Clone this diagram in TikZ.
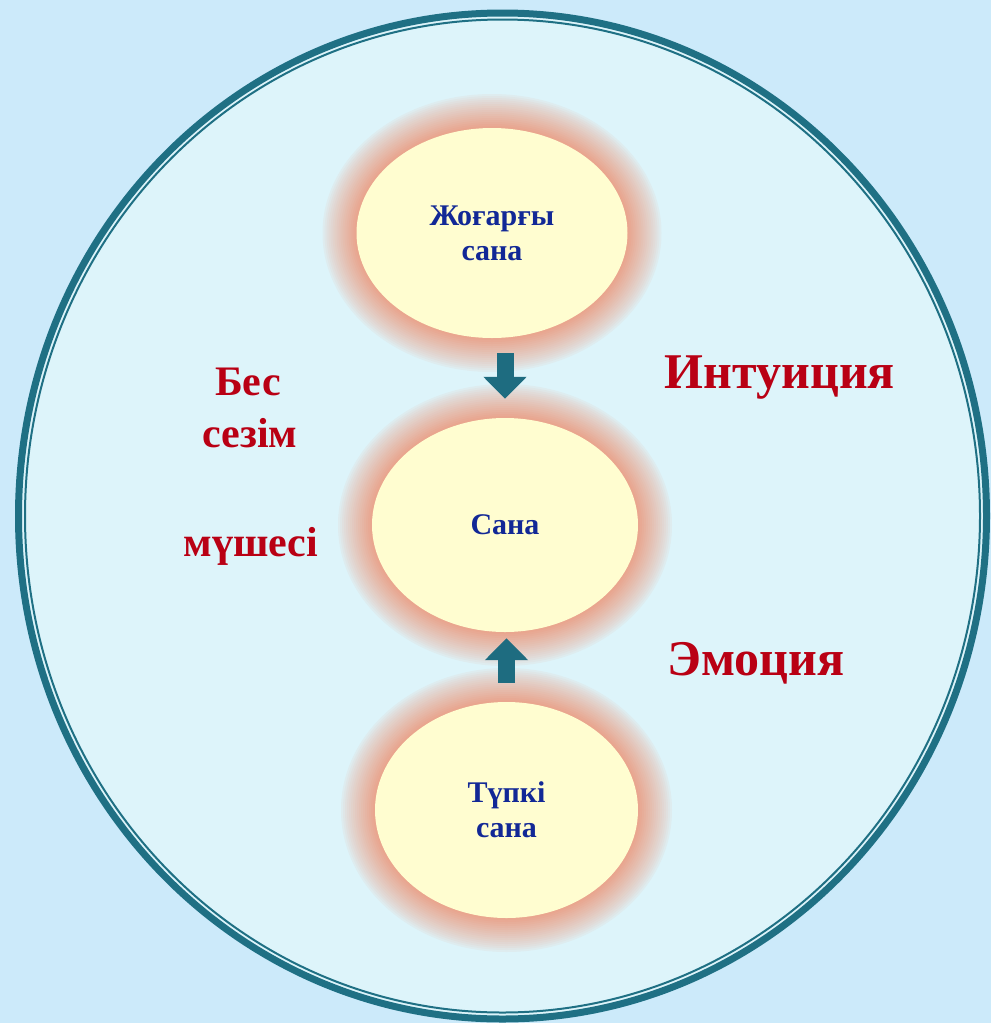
\documentclass[tikz,border=0pt]{standalone}
\usepackage{fontspec}
\setmainfont{Liberation Serif}
\usetikzlibrary{shapes.geometric,arrows.meta,calc}
\definecolor{pagebg}{RGB}{204,234,250}
\definecolor{innerbg}{RGB}{221,244,250}
\definecolor{rimteal}{RGB}{31,112,132}
\definecolor{glowc}{RGB}{233,162,138}
\definecolor{eggfill}{RGB}{255,253,208}
\definecolor{txtblue}{RGB}{18,40,150}
\definecolor{txtred}{RGB}{185,0,20}
\definecolor{arrowteal}{RGB}{30,108,128}
\newcommand\glowell[4]{%
  \foreach \d in {34,32,...,0}{%
    \pgfmathsetmacro\pp{100*(1-\d/36)^0.8}%
    \pgfmathsetmacro\rxx{#3+\d}%
    \pgfmathsetmacro\ryy{#4+\d}%
    \fill[glowc!\pp!innerbg] (#1,#2) ellipse [x radius=\rxx pt, y radius=\ryy pt];
  }}
\tikzset{
  egg/.style={ellipse, fill=eggfill, inner sep=0pt, align=center, text=txtblue,
    font=\bfseries\fontsize{30}{35}\selectfont},
  redlbl/.style={anchor=base, text=txtred, inner sep=0pt, font=\bfseries\fontsize{42}{48}\selectfont},
  bigred/.style={redlbl, font=\bfseries\fontsize{50}{56}\selectfont},
  blockarrow/.style={draw=arrowteal, line width=17pt,
    -{Triangle[length=22pt,width=42pt]}}
}
\begin{document}
\begin{tikzpicture}[x=1pt,y=-1pt]
\useasboundingbox (0,0) rectangle (991,1023);
\fill[pagebg] (0,0) rectangle (991,1023);
% outer frame
\fill[innerbg] (502.5,516) ellipse [x radius=484pt, y radius=503pt];
\draw[rimteal, line width=7pt] (502.5,516) ellipse [x radius=484pt, y radius=503pt];
\draw[rimteal, line width=2pt] (502.5,516) ellipse [x radius=477.5pt, y radius=496.5pt];
% glows
\glowell{492}{233}{135.5}{105}
\glowell{505}{525}{133}{107}
\glowell{506.5}{810}{131.5}{108}
% ellipses
\node[egg, minimum width=271pt, minimum height=210pt] (top) at (492,233) {Жоғарғы\\сана};
\node[egg, minimum width=266pt, minimum height=214pt] (mid) at (505,525) {Сана};
\node[egg, minimum width=263pt, minimum height=216pt] (bot) at (506.5,810) {Түпкі\\сана};
% arrows
\draw[blockarrow, shorten <=15pt, shorten >=19pt] (top.south -| mid.north) -- (mid.north);
\draw[blockarrow, shorten <=19pt, shorten >=6pt] (bot.north) -- (bot.north |- mid.south);
% labels
\node[redlbl] (bes) at (248,395) {Бес};
\node[redlbl] (sezim) at (250,447) {сезім};
\node[redlbl] (mushesi) at (251,556) {мүшесі};
\node[bigred] (intuit) at (780,388) {Интуиция};
\node[bigred] (emotion) at (756,675) {Эмоция};
\end{tikzpicture}
\end{document}
